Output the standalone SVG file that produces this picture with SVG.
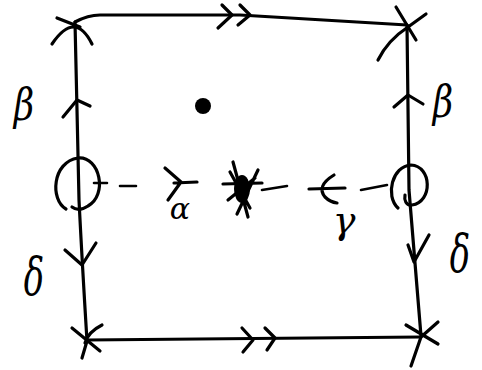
<svg xmlns="http://www.w3.org/2000/svg" width="482" height="370" viewBox="0 0 482 370">
<style>
.s{fill:none;stroke:#000;stroke-width:3.2;stroke-linecap:round;stroke-linejoin:round}
.t{stroke-width:2.6}
.lbl{font-family:"DejaVu Serif","Liberation Serif",serif;font-style:italic;fill:#000;text-anchor:middle}
</style>
<rect width="482" height="370" fill="#fff"/>
<g id="connectors">
  <g id="edge-top">
    <path class="s" d="M75 22 Q88 15 100 15 L240 15 L407 25"/>
    <path class="s" d="M222 5 L232 15 L218 28 M240 5 L250 15 L238 25"/>
  </g>
  <g id="edge-bottom">
    <path class="s" d="M87 340 L421 337"/>
    <path class="s" d="M242 328 L253 340 L243 352 M265 328 L275 338 L267 350"/>
  </g>
  <g id="edge-left">
    <path class="s" d="M75 22 L77 110 L79 200 Q82 260 87 341 L82 358"/>
    <path class="s" d="M63 117 L77 100 L90 106"/>
    <path class="s" d="M65 250 L82 265 L96 243"/>
  </g>
  <g id="edge-right">
    <path class="s" d="M407 25 L409 190 L421 336"/>
    <path class="s" d="M394 107 L408 95 L423 104"/>
    <path class="s" d="M408 245 L414 262 L429 235"/>
  </g>
  <g id="path-alpha">
    <path class="s t" d="M94 183 L107 183 M120 186 L136 186"/>
    <path class="s" d="M165 168 L181 182 L168 200 M174 183 L197 182"/>
  </g>
  <g id="path-gamma">
    <path class="s t" d="M262 190 L287 186"/>
    <path class="s" d="M309 189 L345 188 M334 175 Q316 186 325 197 Q330 202 337 203"/>
    <path class="s t" d="M361 190 L387 185"/>
  </g>
</g>
<g id="corner-tl"><path class="s" d="M52 44 Q75 10 92 44 M57 18 L80 27"/></g>
<g id="corner-tr"><path class="s" d="M396 7 L416 40 M426 14 L408 27 Q388 40 378 60"/></g>
<g id="corner-bl"><path class="s" d="M72 328 L100 351 M102 325 Q88 332 85 343"/></g>
<g id="corner-br"><path class="s" d="M406 325 L438 344 M438 322 L421 337 L411 366"/></g>
<g id="circle-left"><path class="s" d="M66 209 C50 200 52 162 78 158 C100 156 108 195 88 206 C82 210 76 210 72 207"/></g>
<g id="circle-right"><path class="s" d="M398 208 C385 196 392 166 411 165 C432 166 433 202 412 205 C406 206 404 200 405 195"/></g>
<g id="center-star">
  <path class="s" d="M233 162 L248 217 M223 184 L262 183 M237 214 L258 170 M228 200 L255 178 M230 172 L250 208"/>
  <ellipse cx="242" cy="189" rx="8" ry="14" fill="#000"/>
</g>
<g id="dot"><circle cx="203" cy="106" r="8" fill="#000"/></g>
<g id="labels">
  <text class="lbl" transform="translate(24 120) scale(0.8 1)" font-size="44">β</text>
  <text class="lbl" transform="translate(443 117) scale(0.8 1)" font-size="44">β</text>
  <text class="lbl" transform="translate(34 295) scale(0.65 1)" font-size="52">δ</text>
  <text class="lbl" transform="translate(460 272) scale(0.65 1)" font-size="52">δ</text>
  <text class="lbl" x="180" y="219" font-size="30">α</text>
  <text class="lbl" x="344" y="233" font-size="38">γ</text>
</g>
</svg>
